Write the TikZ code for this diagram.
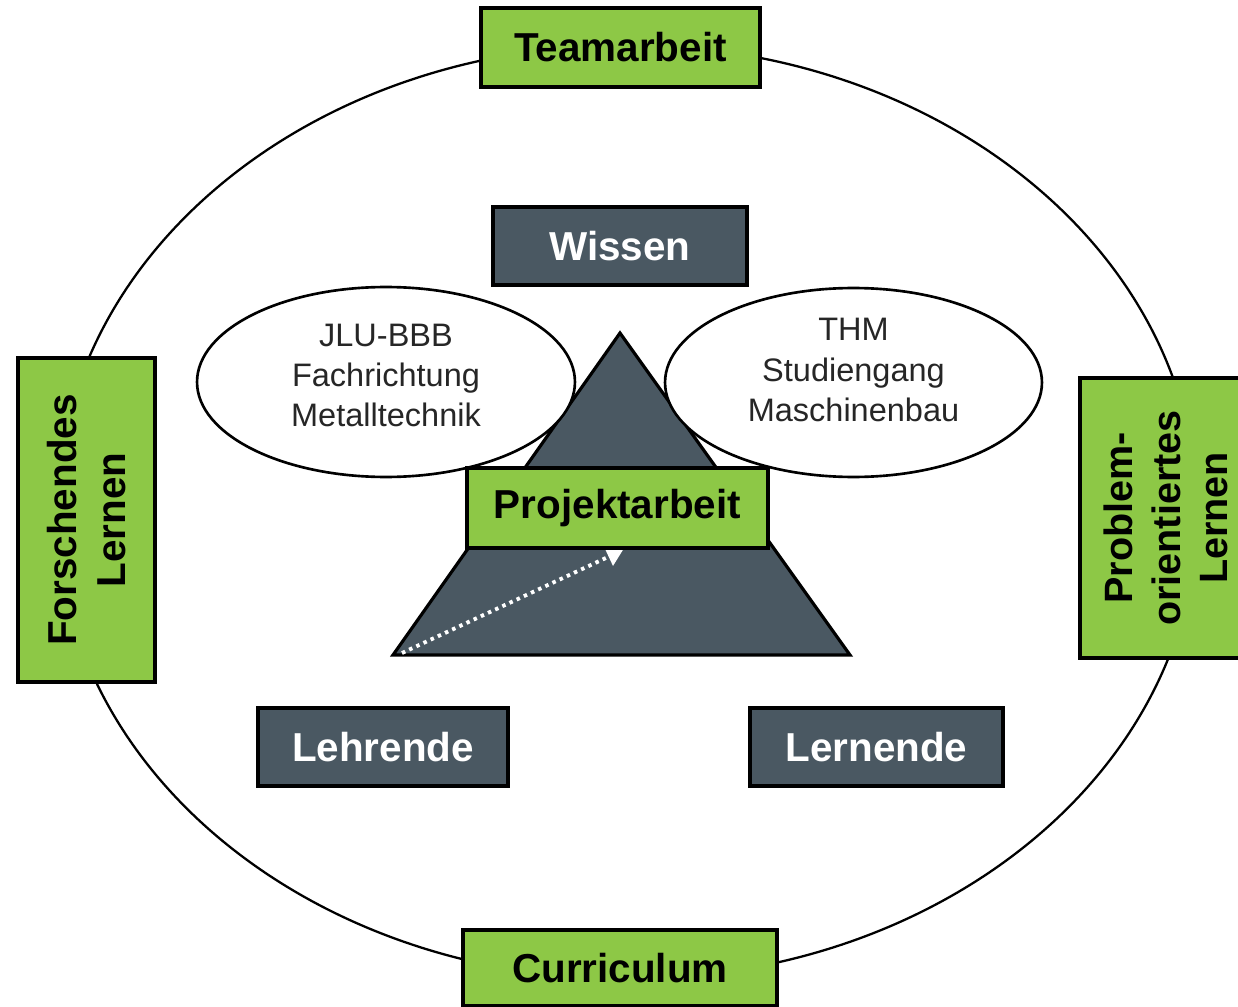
\documentclass[tikz,border=0pt]{standalone}
\usepackage{fontspec}
\setmainfont{Liberation Sans}
\usetikzlibrary{shapes.geometric,arrows.meta}
\definecolor{lime}{HTML}{8DC846}
\definecolor{slate}{HTML}{4A5862}
\tikzset{
  greenbox/.style={draw=black, line width=1.8pt, fill=lime, font=\fontsize{23}{28}\selectfont\bfseries, text=black, align=center, inner sep=0pt},
  darkbox/.style={draw=black, line width=1.8pt, fill=slate, font=\fontsize{23}{28}\selectfont\bfseries, text=white, align=center, inner sep=0pt, minimum height=1.56cm},
  oval/.style={ellipse, draw=black, line width=1.5pt, fill=white, inner sep=0pt, minimum width=7.56cm, minimum height=3.8cm},
  ovaltext/.style={font=\fontsize{18.5}{22.8}\selectfont, text=black!85, align=center, inner sep=0pt},
}
\begin{document}
\begin{tikzpicture}[x=0.02cm, y=-0.02cm]
\useasboundingbox (0,0) rectangle (1238,1007);
% outer ring
\node[ellipse, draw=black, line width=1.3pt, minimum width=22.8cm, minimum height=18.68cm, inner sep=0pt] (ring) at (627,512) {};
% pyramid
\coordinate (apex) at (620,333);
\coordinate (bl) at (393,655);
\coordinate (br) at (850,655);
\draw[line width=1.8pt, fill=slate, line join=miter] (apex) -- (bl) -- (br) -- cycle;
\coordinate (arrS) at (402,653);
\coordinate (arrE) at (623,550);
\draw[white, line width=2.2pt, dash pattern=on 2pt off 2.5pt, -{Triangle[length=9pt, width=11pt]}] (arrS) -- (arrE);
% ovals
\node[oval] (jlu) at (386,382) {};
\node[ovaltext] (jluT) at ([yshift=0.13cm]jlu.center) {JLU-BBB\\Fachrichtung\\Metalltechnik};
\node[oval, minimum width=7.54cm, minimum height=3.78cm] (thm) at (853.5,382.5) {};
\node[ovaltext] (thmT) at ([yshift=0.25cm]thm.center) {THM\\Studiengang\\Maschinenbau};
% boxes
\node[greenbox, minimum width=6.02cm, minimum height=1.6cm] (proj) at (617.5,508) {Projektarbeit};
\node[darkbox, minimum width=5.08cm] (wissen) at (620,246) {Wissen};
\node[darkbox, minimum width=5.0cm] (lehr) at (383,747) {Lehrende};
\node[darkbox, minimum width=5.06cm] (lern) at (876.5,747) {Lernende};
\node[greenbox, minimum width=5.58cm, minimum height=1.58cm] (team) at (620.5,47.5) {Teamarbeit};
\node[greenbox, minimum width=6.28cm, minimum height=1.52cm] (curr) at (620,968) {Curriculum};
\node[greenbox, rotate=90, minimum width=6.48cm, minimum height=2.74cm] (forsch) at (86.5,520) {Forschendes\\Lernen};
\node[greenbox, rotate=90, minimum width=5.6cm, minimum height=3.44cm, font=\fontsize{22.5}{27}\selectfont\bfseries] (prob) at (1166,518) {Problem-\\orientiertes\\Lernen};
\end{tikzpicture}
\end{document}
